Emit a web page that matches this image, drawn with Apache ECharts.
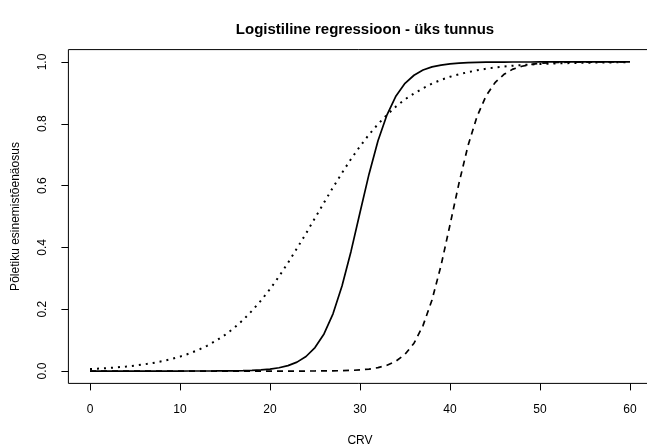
<!DOCTYPE html>
<html><head><meta charset="utf-8">
<script src="https://cdn.jsdelivr.net/npm/echarts@6/dist/echarts.min.js"></script>
<style>html,body{margin:0;padding:0;background:#fff}#c{width:647px;height:447px}</style>
</head><body><div id="c"></div>
<script>
const crv = Array.from({length: 61}, (_, i) => i);
const solidVals = [0,0,0,0,0,0,0,0,0,0,0,0.0001,0.0001,0.0002,0.0003,0.0005,0.0008,0.0014,0.0023,0.0038,
  0.0064,0.0106,0.0175,0.0288,0.047,0.076,0.120,0.185,0.275,0.387,
  0.513,0.637,0.745,0.829,0.890,0.931,0.957,0.974,0.984,0.990,
  0.994,0.9965,0.998,0.9987,0.9992,0.9995,0.9997,0.9998,0.9999,0.9999,
  1,1,1,1,1,1,1,1,1,1,1];
const dashedVals = [0,0,0,0,0,0,0,0,0,0,0,0,0,0,0,0,0,0,0,0,0,0,0,0,0,
  0.0002,0.0004,0.0007,0.0012,0.0021,0.0037,0.0063,0.0109,0.0187,0.032,
  0.054,0.090,0.147,0.230,0.341,0.473,0.608,0.729,0.823,0.890,
  0.933,0.960,0.977,0.986,0.992,0.9955,0.9974,0.9985,0.9991,0.9995,
  0.9997,0.9998,0.9999,0.9999,1,1];
const dottedVals = [0.0066,0.0080,0.0098,0.0119,0.0145,0.0176,0.0215,0.0261,0.0317,0.0384,
  0.0465,0.0563,0.0679,0.0817,0.0980,0.117,0.139,0.165,0.195,0.228,
  0.265,0.306,0.350,0.397,0.445,0.495,0.545,0.594,0.641,0.686,
  0.727,0.765,0.799,0.829,0.856,0.879,0.898,0.915,0.930,0.942,
  0.952,0.960,0.967,0.973,0.978,0.982,0.985,0.988,0.990,0.9917,
  0.9932,0.9944,0.9954,0.9962,0.9969,0.9975,0.9979,0.9983,0.9986,0.9989,0.9991];
const xTicks = [0,10,20,30,40,50,60];
const yTicks = [0,0.2,0.4,0.6,0.8,1.0];

const zip = v => crv.map((x, i) => [x, v[i]]);
const font = '"Liberation Sans", Arial, sans-serif';
const chart = echarts.init(document.getElementById('c'), null, {renderer: 'canvas'});
chart.setOption({
  animation: false,
  backgroundColor: '#fff',
  title: {
    text: 'Logistiline regressioon - üks tunnus',
    left: 360, top: 17, textAlign: 'center',
    textStyle: {fontFamily: font, fontSize: 15, fontWeight: 'bold', color: '#000'}
  },
  grid: {left: 68.4, right: -4.6, top: 49.6, bottom: 63.6, outerBoundsMode: 'none', containLabel: false,
    show: true, borderColor: '#000', borderWidth: 1, backgroundColor: 'transparent'},
  xAxis: {
    type: 'value', min: -2.4, max: 62.4,
    name: 'CRV', nameLocation: 'middle', nameGap: 51,
    nameTextStyle: {fontFamily: font, fontSize: 12, color: '#000'},
    axisLine: {show: false, onZero: false},
    axisTick: {show: true, length: 7, customValues: xTicks, lineStyle: {color: '#000'}},
    axisLabel: {customValues: xTicks, margin: 20, fontFamily: font, fontSize: 12, color: '#000'},
    splitLine: {show: false}
  },
  yAxis: {
    type: 'value', min: -0.04, max: 1.04,
    name: 'Põletiku esinemistõenäosus', nameLocation: 'middle', nameGap: 47,
    nameTextStyle: {fontFamily: font, fontSize: 12, color: '#000'},
    axisLine: {show: false, onZero: false},
    axisTick: {show: true, length: 7, customValues: yTicks, lineStyle: {color: '#000'}},
    axisLabel: {customValues: yTicks, rotate: 90, margin: 20, fontFamily: font, fontSize: 12, color: '#000',
      formatter: v => v.toFixed(1)},
    splitLine: {show: false}
  },
  series: [
    {type: 'line', data: zip(solidVals), showSymbol: false, lineStyle: {color: '#000', width: 1.7, type: 'solid'}},
    {type: 'line', data: zip(dashedVals), showSymbol: false, lineStyle: {color: '#000', width: 1.7, type: [6, 5]}},
    {type: 'line', data: zip(dottedVals), showSymbol: false, lineStyle: {color: '#000', width: 2, type: [2, 5]}}
  ]
});
</script></body></html>
